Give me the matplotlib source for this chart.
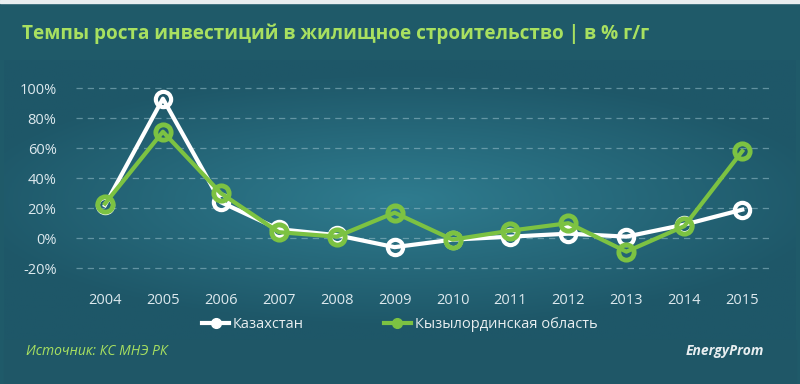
import numpy as np
import matplotlib.pyplot as plt
from matplotlib.lines import Line2D

years = ["2004", "2005", "2006", "2007", "2008", "2009", "2010", "2011", "2012", "2013", "2014", "2015"]
kazakhstan = [22, 93, 24, 6, 2, -6, -1, 1, 3, 1, 9, 19]
kyzylorda = [23, 71, 30, 4, 1, 17, -1, 5, 10, -9, 8, 58]
yticks = [-20, 0, 20, 40, 60, 80, 100]

title = "Темпы роста инвестиций в жилищное строительство | в % г/г"
source = "Источник: КС МНЭ РК"

white = "#ffffff"
green = "#7cc242"
title_green = "#a8e060"

plt.rcParams["font.family"] = ["Open Sans", "DejaVu Sans"]

fig = plt.figure(figsize=(8, 3.84), dpi=100)

# фон: полосы + градиент на основной панели
bg = fig.add_axes([0, 0, 1, 1])
bg.set_xlim(0, 800)
bg.set_ylim(384, 0)
bg.axis("off")
bg.add_patch(plt.Rectangle((0, 0), 800, 384, color="#1f5a69"))
gx, gy = np.meshgrid(np.linspace(-1, 1, 400), np.linspace(-1, 1, 150))
r = np.sqrt((gx * 0.9) ** 2 + (gy * 1.1) ** 2)
c0 = np.array([0x2f, 0x7c, 0x8f]) / 255
c1 = np.array([0x1e, 0x57, 0x68]) / 255
t = np.clip(r, 0, 1)[..., None]
img = c0 * (1 - t) + c1 * t
bg.imshow(img, extent=(4, 796, 340, 60), aspect="auto", zorder=1)
bg.add_patch(plt.Rectangle((4, 340), 792, 44, color="#1f5767", zorder=1))
bg.add_patch(plt.Rectangle((0, 0), 800, 3, color="#e8eef0", zorder=2))

ax = fig.add_axes([0.095, 0.281, 0.869, 0.510])
ax.patch.set_alpha(0)
x = np.arange(len(years))

ax.plot(x, kazakhstan, color=white, lw=3, marker="o", ms=11, mfc="none",
        mec=white, mew=3, zorder=3)
ax.plot(x, kyzylorda, color=green, lw=3, marker="o", ms=11, mfc="none",
        mec=green, mew=3.5, zorder=4)

ax.set_xlim(-0.5, 11.5)
ax.set_ylim(-25.3, 105.3)
ax.set_yticks(yticks)
ax.set_yticklabels([f"{v}%" for v in yticks])
ax.set_xticks(x)
ax.set_xticklabels(years)
for v in yticks:
    ax.axhline(v, color="#8fb8c4", lw=0.9, ls=(0, (5, 4)), alpha=0.6, zorder=1)
for s in ax.spines.values():
    s.set_visible(False)
ax.tick_params(length=0, colors="#dde9ee", labelsize=10.5)
ax.tick_params(axis="x", pad=12)
ax.tick_params(axis="y", pad=14)

fig.text(0.027, 0.912, title, color=title_green, fontsize=13.7, fontweight="bold",
         va="center", ha="left")
fig.text(0.033, 0.085, source, color=title_green, fontsize=10, style="italic",
         va="center", ha="left")
fig.text(0.955, 0.085, "EnergyProm", color="#e8eef0", fontsize=10,
         fontweight="bold", style="italic", va="center", ha="right")

handles = [
    Line2D([], [], color=white, lw=3, marker="o", ms=7, mfc=white, mec=white),
    Line2D([], [], color=green, lw=3, marker="o", ms=7, mfc=green, mec=green),
]
fig.legend(handles, ["Казахстан", "Кызылординская область"], loc="center",
           bbox_to_anchor=(0.5, 0.155), ncol=2, frameon=False, fontsize=10.5,
           labelcolor="#e8eef0", handlelength=1.8, handletextpad=0.3,
           columnspacing=5.5)

fig.savefig("out.png", dpi=100)
